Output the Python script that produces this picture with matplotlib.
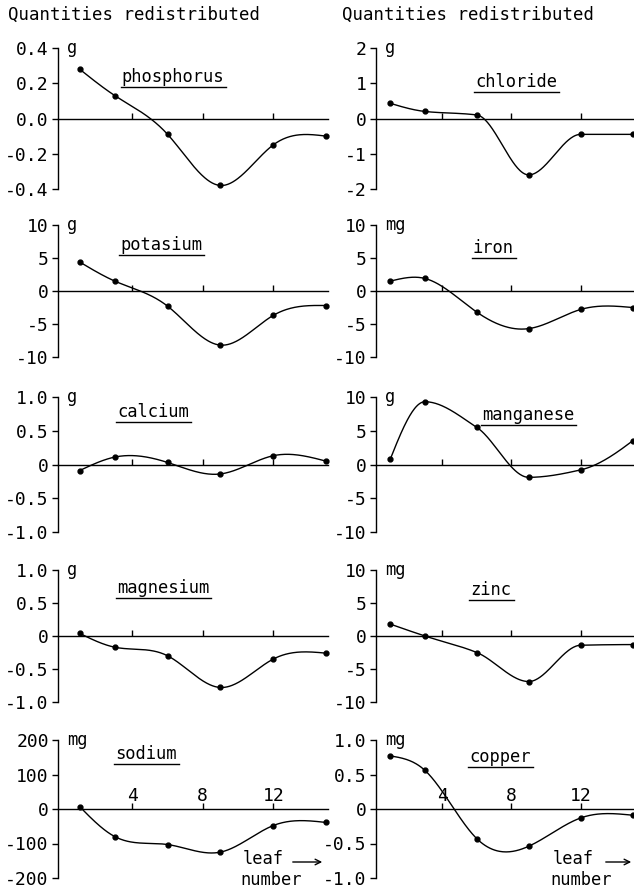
import numpy as np
import matplotlib
matplotlib.use("Agg")
import matplotlib.pyplot as plt
from matplotlib.lines import Line2D

plt.rcParams['font.family'] = ['DejaVu Sans Mono']

# ---------------- data ----------------
leaf = [1, 3, 6, 9, 12, 15]
phosphorus = [0.28, 0.13, -0.09, -0.38, -0.15, -0.10]
chloride = [0.43, 0.20, 0.10, -1.60, -0.45, -0.45]
potasium = [4.4, 1.5, -2.3, -8.2, -3.7, -2.2]
iron = [1.5, 1.9, -3.2, -5.7, -2.8, -2.5]
calcium = [-0.09, 0.11, 0.03, -0.14, 0.13, 0.05]
manganese = [0.8, 9.3, 5.5, -1.9, -0.8, 3.5]
magnesium = [0.04, -0.17, -0.30, -0.78, -0.35, -0.26]
zinc = [1.8, 0.0, -2.5, -6.9, -1.4, -1.3]
sodium = [7, -80, -103, -125, -48, -39]
copper = [0.77, 0.56, -0.43, -0.54, -0.13, -0.09]

names_left = ["phosphorus", "potasium", "calcium", "magnesium", "sodium"]
names_right = ["chloride", "iron", "manganese", "zinc", "copper"]
series_left = [phosphorus, potasium, calcium, magnesium, sodium]
series_right = [chloride, iron, manganese, zinc, copper]
units_left = ["g", "g", "g", "g", "mg"]
units_right = ["g", "mg", "g", "mg", "mg"]

ylim_left = [0.4, 10, 1.0, 1.0, 200]
ylim_right = [2, 10, 10, 10, 1.0]
yticklabels_left = [
    ["-0.4", "-0.2", "0.0", "0.2", "0.4"],
    ["-10", "-5", "0", "5", "10"],
    ["-1.0", "-0.5", "0", "0.5", "1.0"],
    ["-1.0", "-0.5", "0", "0.5", "1.0"],
    ["-200", "-100", "0", "100", "200"],
]
yticklabels_right = [
    ["-2", "-1", "0", "1", "2"],
    ["-10", "-5", "0", "5", "10"],
    ["-10", "-5", "0", "5", "10"],
    ["-10", "-5", "0", "5", "10"],
    ["-1.0", "-0.5", "0", "0.5", "1.0"],
]
xticks = [4, 8, 12]
xticklabels = ["4", "8", "12"]
title = "Quantities redistributed"

# curve drawing style per panel
curve_left = ["spline", "spline", "spline", "spline", "spline"]
curve_right = ["pchip", "spline", "pchip", "pchip", "spline"]


def natural_spline(x, y, num=300):
    x = np.asarray(x, float)
    y = np.asarray(y, float)
    n = len(x)
    h = np.diff(x)
    A = np.zeros((n, n))
    b = np.zeros(n)
    A[0, 0] = A[-1, -1] = 1.0
    for i in range(1, n - 1):
        A[i, i - 1] = h[i - 1]
        A[i, i] = 2 * (h[i - 1] + h[i])
        A[i, i + 1] = h[i]
        b[i] = 3 * ((y[i + 1] - y[i]) / h[i] - (y[i] - y[i - 1]) / h[i - 1])
    c = np.linalg.solve(A, b)
    xs = np.linspace(x[0], x[-1], num)
    idx = np.clip(np.searchsorted(x, xs) - 1, 0, n - 2)
    dx = xs - x[idx]
    bc = (y[1:] - y[:-1]) / h - h * (2 * c[:-1] + c[1:]) / 3
    d = (c[1:] - c[:-1]) / (3 * h)
    ys = y[idx] + bc[idx] * dx + c[idx] * dx ** 2 + d[idx] * dx ** 3
    return xs, ys


def pchip(x, y, num=300):
    x = np.asarray(x, float)
    y = np.asarray(y, float)
    n = len(x)
    h = np.diff(x)
    dl = np.diff(y) / h
    m = np.zeros(n)
    for k in range(1, n - 1):
        if dl[k - 1] * dl[k] <= 0:
            m[k] = 0.0
        else:
            w1 = 2 * h[k] + h[k - 1]
            w2 = h[k] + 2 * h[k - 1]
            m[k] = (w1 + w2) / (w1 / dl[k - 1] + w2 / dl[k])

    def end(h0, h1, d0, d1):
        mm = ((2 * h0 + h1) * d0 - h0 * d1) / (h0 + h1)
        if np.sign(mm) != np.sign(d0):
            mm = 0.0
        elif np.sign(d0) != np.sign(d1) and abs(mm) > abs(3 * d0):
            mm = 3 * d0
        return mm

    m[0] = end(h[0], h[1], dl[0], dl[1])
    m[-1] = end(h[-1], h[-2], dl[-1], dl[-2])
    xs = np.linspace(x[0], x[-1], num)
    idx = np.clip(np.searchsorted(x, xs) - 1, 0, n - 2)
    t = (xs - x[idx]) / h[idx]
    h00 = 2 * t ** 3 - 3 * t ** 2 + 1
    h10 = t ** 3 - 2 * t ** 2 + t
    h01 = -2 * t ** 3 + 3 * t ** 2
    h11 = t ** 3 - t ** 2
    ys = (h00 * y[idx] + h10 * h[idx] * m[idx] + h01 * y[idx + 1]
          + h11 * h[idx] * m[idx + 1])
    return xs, ys


W, H = 634, 891
fig = plt.figure(figsize=(W / 100, H / 100), dpi=100)

rows = [(48, 189), (225, 357), (397, 532), (570, 702), (740, 878)]
cols = [dict(x0=62, ppu=17.6, xlim=(-0.2, 15.1)),
        dict(x0=373, ppu=17.3, xlim=(0.2, 15.2))]

# label positions (pixel centres)
name_pos_left = [(173, 77), (161, 245), (153, 412), (163, 588), (146, 754)]
name_pos_right = [(516, 82), (493, 248), (528, 415), (491, 590), (500, 757)]

FS = 12.3
name_texts = []

for c, col in enumerate(cols):
    names = names_left if c == 0 else names_right
    series = series_left if c == 0 else series_right
    units = units_left if c == 0 else units_right
    ylims = ylim_left if c == 0 else ylim_right
    ylabs = yticklabels_left if c == 0 else yticklabels_right
    npos = name_pos_left if c == 0 else name_pos_right
    kinds = curve_left if c == 0 else curve_right
    for r, (top, bot) in enumerate(rows):
        x0, ppu, xl = col["x0"], col["ppu"], col["xlim"]
        left = x0 + xl[0] * ppu
        width = (xl[1] - xl[0]) * ppu
        ax = fig.add_axes([left / W, 1 - bot / H, width / W, (bot - top) / H])
        ax.patch.set_visible(False)
        ax.set_xlim(xl)
        ym = ylims[r]
        ax.set_ylim(-ym, ym)
        for s in ("top", "right"):
            ax.spines[s].set_visible(False)
        ax.spines["bottom"].set_position(("data", 0))
        ax.spines["left"].set_linewidth(1.0)
        ax.spines["bottom"].set_linewidth(1.0)
        ax.set_yticks(np.linspace(-ym, ym, 5))
        ax.set_yticklabels(ylabs[r])
        ax.tick_params(axis="y", direction="out", length=4, width=1, pad=3,
                       labelsize=13)
        ax.set_xticks(xticks)
        if r == len(rows) - 1:
            ax.set_xticklabels(xticklabels)
        else:
            ax.set_xticklabels([""] * len(xticks))
        ax.tick_params(axis="x", direction="in", length=4, width=1, pad=-16,
                       labelsize=13)

        fn = pchip if kinds[r] == "pchip" else natural_spline
        xs, ys = fn(leaf, series[r])
        ax.plot(xs, ys, color="black", lw=1.0, clip_on=False)
        ax.plot(leaf, series[r], "o", color="black", ms=3.5, clip_on=False)

        ax.annotate(units[r], xy=(0, 1), xycoords="axes fraction",
                    xytext=(9, 0), textcoords="offset pixels",
                    ha="left", va="center", fontsize=FS)

        px, py = npos[r]
        t = fig.text(px / W, 1 - py / H, names[r], ha="center", va="center",
                     fontsize=FS)
        name_texts.append(t)

fig.text(8 / W, 1 - 15 / H, title, ha="left", va="center", fontsize=12.5)
fig.text(342 / W, 1 - 15 / H, title, ha="left", va="center", fontsize=12.5)

# leaf number annotations
for lx, ax0, ax1 in [(243, 290, 325), (553, 603, 634)]:
    fig.text(lx / W, 1 - 859 / H, "leaf", ha="left", va="center", fontsize=FS)
    fig.text((lx - 3) / W, 1 - 880 / H, "number", ha="left", va="center",
             fontsize=FS)
    fig.add_artist(matplotlib.patches.FancyArrowPatch(
        (ax0 / W, 1 - 862 / H), (ax1 / W, 1 - 862 / H),
        transform=fig.transFigure, arrowstyle="->", mutation_scale=10,
        lw=1.0, color="black"))

# underlines for element names
fig.canvas.draw()
renderer = fig.canvas.get_renderer()
for t in name_texts:
    bb = t.get_window_extent(renderer)
    yline = bb.y0 - 1
    fig.add_artist(Line2D([(bb.x0 - 1) / W, (bb.x1 + 2) / W],
                          [yline / H, yline / H],
                          transform=fig.transFigure, color="black", lw=1.0))

fig.savefig("out.png", dpi=100)
